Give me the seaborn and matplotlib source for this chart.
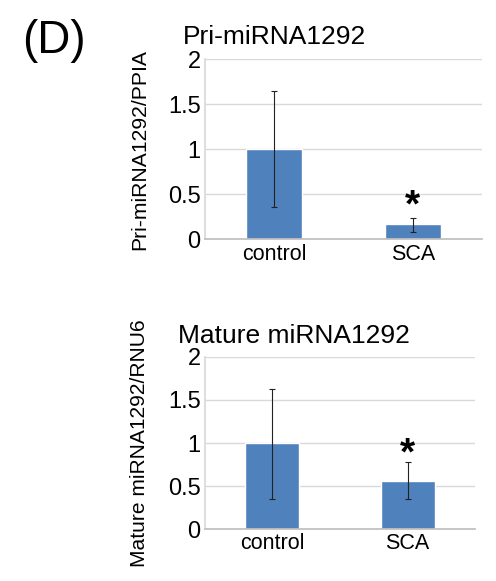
import numpy as np
import pandas as pd
import matplotlib
matplotlib.use("Agg")
import matplotlib.pyplot as plt
import seaborn as sns

# data
groups = ["control", "SCA"]
pri_mean = [1.0, 0.167]
pri_err_low = [0.645, 0.08]
pri_err_high = [0.65, 0.075]
mature_mean = [1.0, 0.565]
mature_err_low = [0.65, 0.215]
mature_err_high = [0.63, 0.215]
yticks = [0, 0.5, 1, 1.5, 2]
ytick_labels = ["0", "0.5", "1", "1.5", "2"]

sns.set_theme(style="white")
plt.rcParams["font.family"] = ["Liberation Sans", "DejaVu Sans"]
plt.rcParams["text.color"] = "black"

BAR = "#4F81BD"
GRID = "#D9D9D9"

fig = plt.figure(figsize=(4.96, 5.81), dpi=100)
ax1 = fig.add_axes([0.413, 0.588, 0.559, 0.310])
ax2 = fig.add_axes([0.413, 0.089, 0.545, 0.297])


def panel(ax, mean, lo, hi, title, ylabel, ylabel_size, star_y, label_x, pad):
    df = pd.DataFrame({"group": groups, "value": mean})
    sns.barplot(data=df, x="group", y="value", color=BAR, saturation=1,
                width=0.4, ax=ax, zorder=2)
    ax.errorbar(range(len(groups)), mean, yerr=[lo, hi], fmt="none",
                ecolor="#222222", elinewidth=0.8, capsize=2, capthick=0.8,
                zorder=3)
    ax.set_ylim(0, 2)
    ax.set_xlim(-0.5, 1.5)
    ax.set_yticks(yticks)
    ax.set_yticklabels(ytick_labels)
    ax.yaxis.grid(True, color=GRID, linewidth=1)
    ax.set_axisbelow(True)
    for s in ["top", "right"]:
        ax.spines[s].set_visible(False)
    ax.spines["left"].set_color(GRID)
    ax.spines["bottom"].set_color("#BFBFBF")
    ax.tick_params(axis="y", length=0, labelsize=17, colors="black", pad=3)
    ax.tick_params(axis="x", length=0, labelsize=15.5, colors="black", pad=3)
    ax.set_xlabel("")
    ax.set_ylabel(ylabel, fontsize=ylabel_size, color="black")
    ax.yaxis.set_label_coords(label_x, 0.5)
    ax.set_title(title, fontsize=19, pad=pad, color="black")
    ax.text(1, star_y, "*", ha="center", va="center", fontsize=28,
            fontweight="bold", color="black")


panel(ax1, pri_mean, pri_err_low, pri_err_high,
      "Pri-miRNA1292", "Pri-miRNA1292/PPIA", 15.2, 0.36, -0.2, 11)
panel(ax2, mature_mean, mature_err_low, mature_err_high,
      "Mature miRNA1292", "Mature miRNA1292/RNU6", 15.1, 0.87, -0.205, 10)
ax1.title.set_position((0.25, 1.0))
ax2.title.set_position((0.33, 1.0))

fig.text(0.045, 0.93, "(D)", fontsize=33, ha="left", va="center")

fig.savefig("out.png", dpi=100)
